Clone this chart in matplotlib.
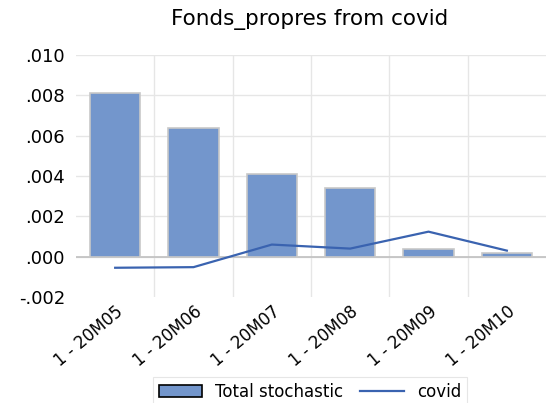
import numpy as np
import matplotlib.pyplot as plt

periods = ['1 - 20M05', '1 - 20M06', '1 - 20M07', '1 - 20M08', '1 - 20M09', '1 - 20M10']
total_stochastic = [0.0081, 0.0064, 0.00412, 0.00342, 0.0004, 0.0002]
covid = [-0.00055, -0.00052, 0.0006, 0.0004, 0.00124, 0.0003]
yticks = [-0.002, 0.0, 0.002, 0.004, 0.006, 0.008, 0.010]

plt.rcParams['font.family'] = ['DejaVu Sans']

fig = plt.figure(figsize=(5.46, 4.03), dpi=100)
ax = fig.add_axes([76/546, 1-297/403, 470/546, 242/403])

x = np.arange(len(periods))
bars = ax.bar(x, total_stochastic, width=0.64, color='#7396cc', edgecolor='#c8c8c8', linewidth=1.2, zorder=2,
              label='Total stochastic')
line, = ax.plot(x, covid, color='#3a63b0', linewidth=1.6, zorder=3, label='covid')

ax.set_xlim(-0.5, len(periods) - 0.5)
ax.set_ylim(-0.002, 0.010)
ax.set_yticks(yticks)
ax.set_yticklabels(['-.002' if v < 0 else ('%.3f' % v)[1:] for v in yticks], fontsize=13)
ax.set_xticks(x)
ax.set_xticklabels(periods, rotation=40, ha='right', va='top', rotation_mode='anchor', fontsize=12)
ax.tick_params(axis='y', length=0, pad=8)
ax.tick_params(axis='x', length=0, pad=4)

# grid: horizontal at y ticks, vertical at category boundaries
for v in yticks[1:]:
    ax.axhline(v, color='#e6e6e6', linewidth=1, zorder=0)
for b in x[:-1] + 0.5:
    ax.axvline(b, color='#e6e6e6', linewidth=1, zorder=0)
ax.axhline(0, color='#c0c0c0', linewidth=1.2, zorder=1)

for s in ax.spines.values():
    s.set_visible(False)

fig.text(310/546, 1-20/403, 'Fonds_propres from covid', ha='center', va='center', fontsize=15.5)

leg = fig.legend([bars, line], ['Total stochastic', 'covid'], loc='center',
                 bbox_to_anchor=(310/546, 1-392/403), ncol=2, fontsize=12,
                 frameon=True, fancybox=False, edgecolor='#e0e0e0', handlelength=2.6,
                 handleheight=0.7, columnspacing=1.0, borderpad=0.35, borderaxespad=0)
leg.get_frame().set_linewidth(0.8)
leg.legend_handles[0].set_edgecolor('black')

fig.savefig('out.png', dpi=100)
